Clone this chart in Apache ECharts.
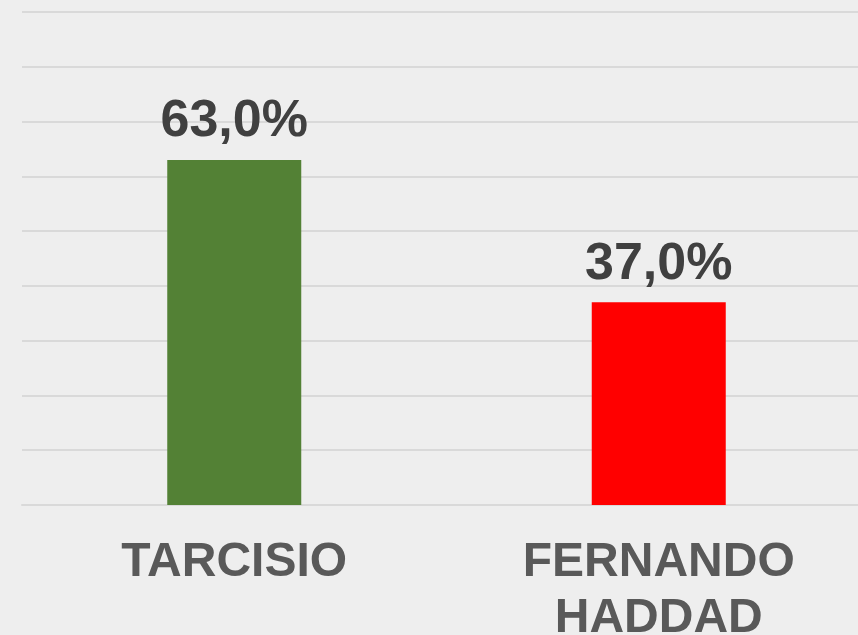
<!DOCTYPE html>
<html>
<head>
<meta charset="utf-8">
<script src="https://cdn.jsdelivr.net/npm/echarts@6/dist/echarts.min.js"></script>
<style>
  html, body { margin: 0; padding: 0; background: #eeeeee; }
  #chart { width: 858px; height: 635px; }
</style>
</head>
<body>
<div id="chart"></div>
<script>
// candidatos e percentuais
const categories = ['TARCISIO', 'FERNANDO HADDAD']
const values = [63.0, 37.0]
const barColors = ['#538135', '#FF0000']

const chart = echarts.init(document.getElementById('chart'))
chart.setOption({
  backgroundColor: '#eeeeee',
  animation: false,
  grid: { left: 22, right: -13, top: 12, bottom: 130, outerBoundsMode: 'none', containLabel: false },
  xAxis: {
    type: 'category',
    data: categories,
    axisLine: { lineStyle: { color: '#d9d9d9', width: 2 } },
    axisTick: { length: 13, lineStyle: { color: '#d9d9d9', width: 2 } },
    axisLabel: {
      margin: 30,
      fontFamily: 'Liberation Sans',
      fontSize: 48,
      fontWeight: 'bold',
      color: '#595959',
      lineHeight: 56,
      formatter: v => v.replace(' ', '\n')
    }
  },
  yAxis: {
    type: 'value',
    min: 0,
    max: 90,
    interval: 10,
    axisLabel: { show: false },
    axisLine: { show: false },
    axisTick: { show: false },
    splitLine: { lineStyle: { color: '#d9d9d9', width: 2 } }
  },
  series: [{
    type: 'bar',
    barWidth: 134,
    data: values.map((v, i) => ({ value: v, itemStyle: { color: barColors[i] } })),
    label: {
      show: true,
      position: 'top',
      distance: 12,
      fontFamily: 'Liberation Sans',
      fontSize: 52,
      fontWeight: 'bold',
      color: '#404040',
      formatter: p => p.value.toFixed(1).replace('.', ',') + '%'
    }
  }]
})
</script>
</body>
</html>
